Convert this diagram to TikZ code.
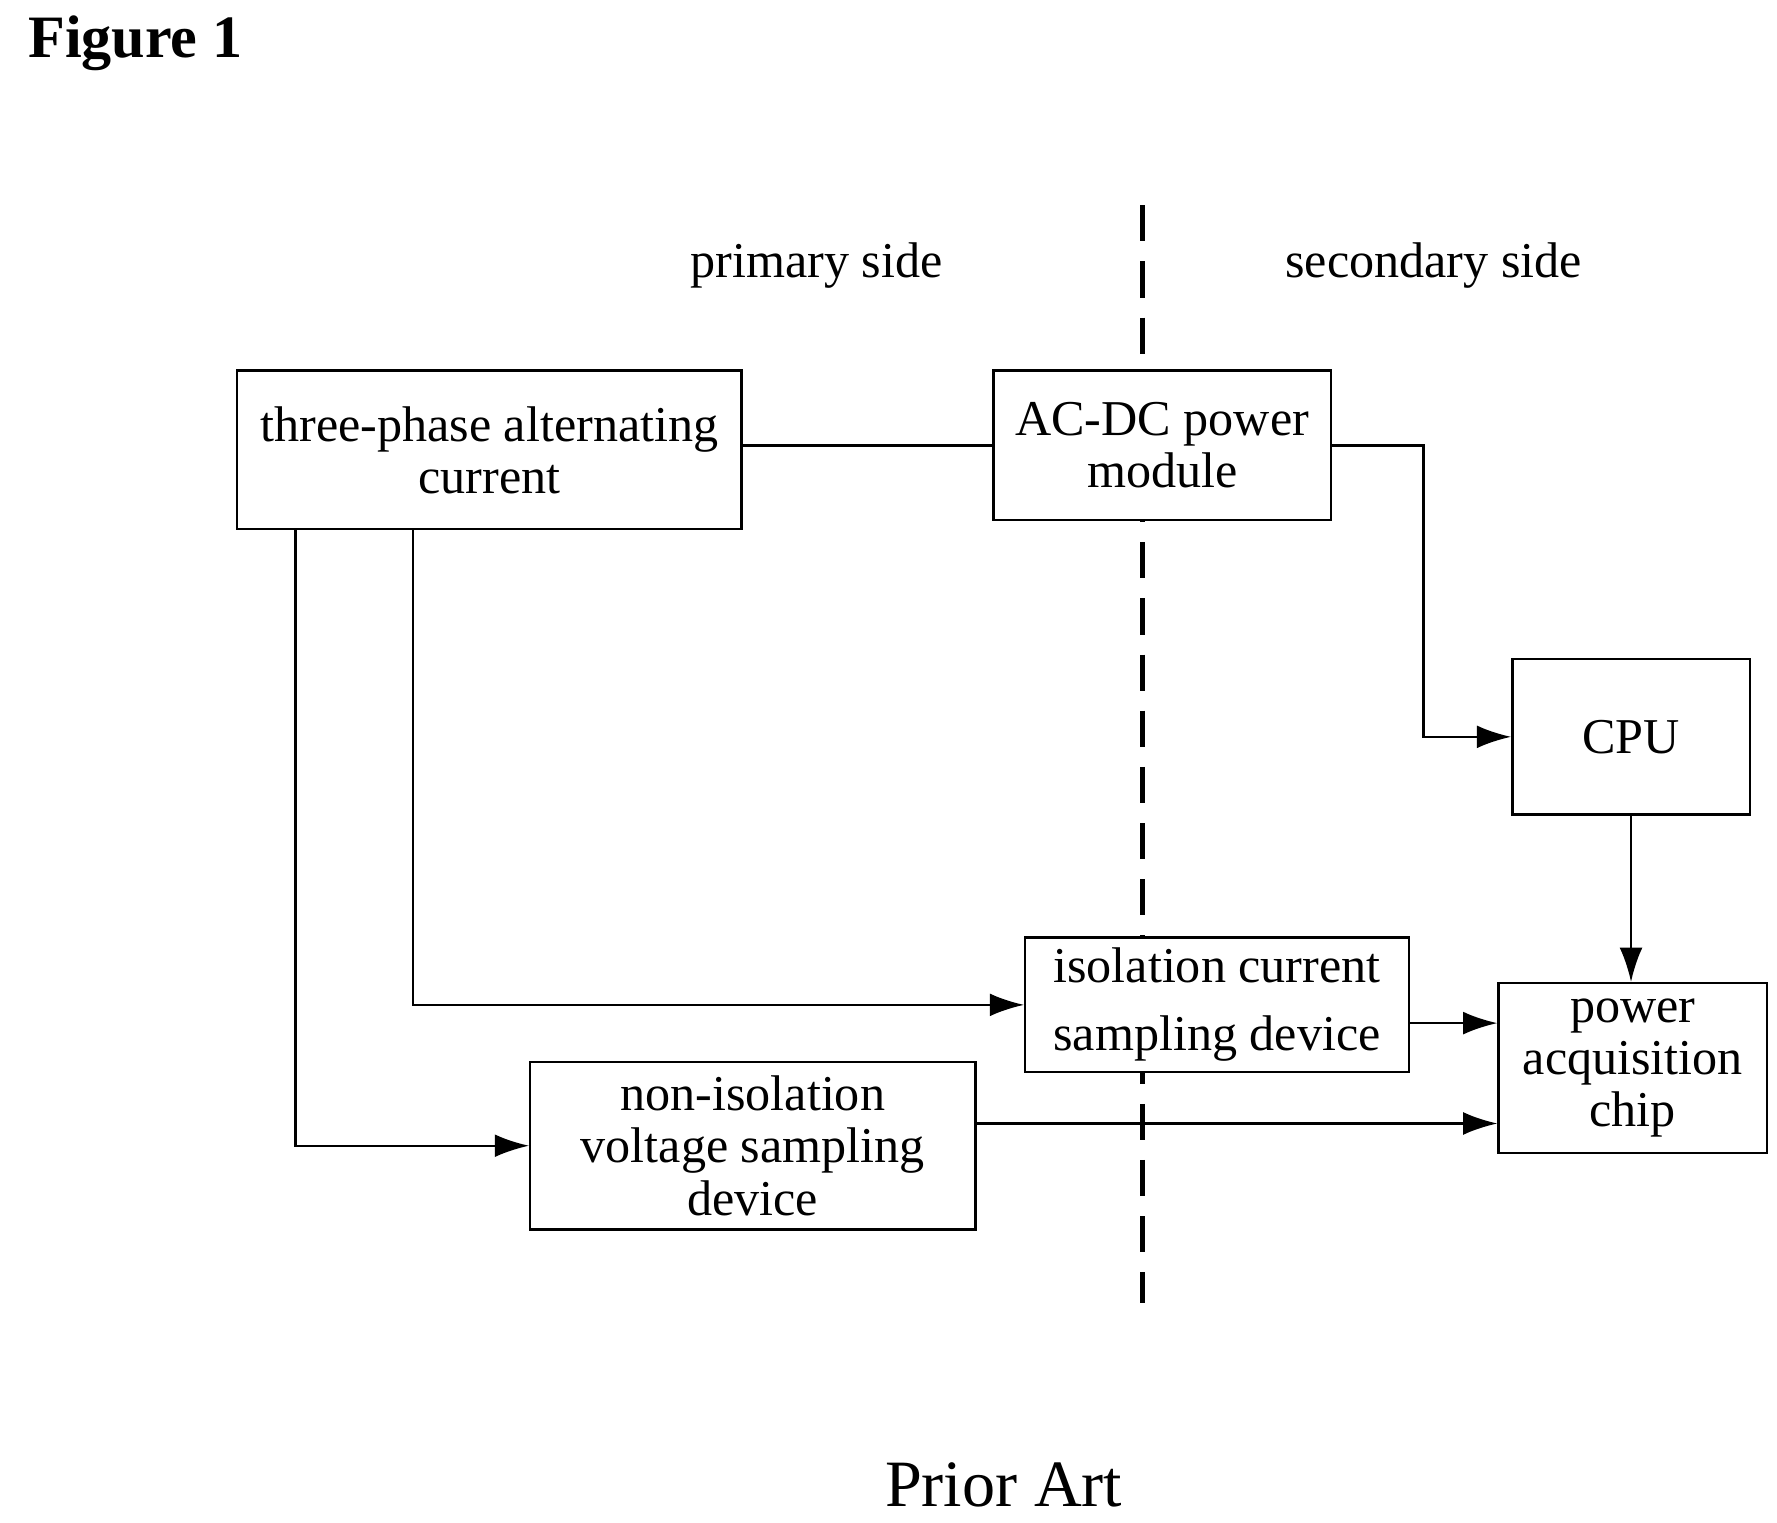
\documentclass[tikz,border=0pt]{standalone}
\usepackage{fontspec}
\setmainfont{Liberation Serif}
\usetikzlibrary{positioning,calc,arrows.meta}
\tikzset{font=\fontsize{12.5}{13}\selectfont}

\begin{document}
\begin{tikzpicture}[x=0.01cm, y=-0.01cm, line width=0.6pt,
	blk/.style={draw, fill=white, align=center, inner sep=0pt},
	arr/.style={-{Latex[length=3mm, width=2mm]}}]
	\useasboundingbox (0,0) rectangle (1558,1335);
	\node[anchor=west, font=\fontsize{15}{16}\selectfont\bfseries] (fig) at (12,38) {Figure 1};
	\node (prim) at (716,233) {primary side};
	\node (sec) at (1257,233) {secondary side};
	\coordinate (top) at (1002,180);
	\coordinate (bot) at (1002,1142);
	\draw[dashed, line width=1.2pt, dash pattern=on 9pt off 5pt] (top) -- (bot);

	\node[blk, minimum width=4.42cm, minimum height=1.39cm] (tpac) at (429,394.5) {three-phase alternating\\current};
	\node[blk, minimum width=2.96cm, minimum height=1.31cm] (acdc) at (1019,390.5) {AC-DC power\\module};
	\node[blk, minimum width=2.08cm, minimum height=1.36cm] (cpu) at (1430,646) {CPU};
	\node[blk, minimum width=3.36cm, minimum height=1.18cm] (iso) at (1067,881) {isolation current\\[4pt]sampling device};
	\node[blk, minimum width=2.35cm, minimum height=1.49cm] (chip) at (1431.5,936.5) {power\\acquisition\\chip};
	\node[blk, minimum width=3.90cm, minimum height=1.47cm] (noniso) at (660,1004.5) {non-isolation\\voltage sampling\\device};

	\draw (tpac.east |- acdc.west) -- (acdc.west);
	\draw[arr] (acdc.east) -- ++(80,0) |- (cpu.west);
	\draw[arr] (cpu.south) -- (cpu.south |- chip.north);
	\draw[arr] ($(tpac.south)+(-67,0)$) |- (iso.west);
	\draw[arr] ($(tpac.south)+(-170,0)$) |- (noniso.west);
	\draw[arr] ($(iso.east)+(0,16)$) -- ($(iso.east -| chip.west)+(0,16)$);
	\draw[arr] ($(noniso.east)+(0,-19.5)$) -- ($(noniso.east -| chip.west)+(0,-19.5)$);

	\node[font=\fontsize{16.5}{18}\selectfont] (prior) at (880,1302) {Prior Art};
\end{tikzpicture}
\end{document}
